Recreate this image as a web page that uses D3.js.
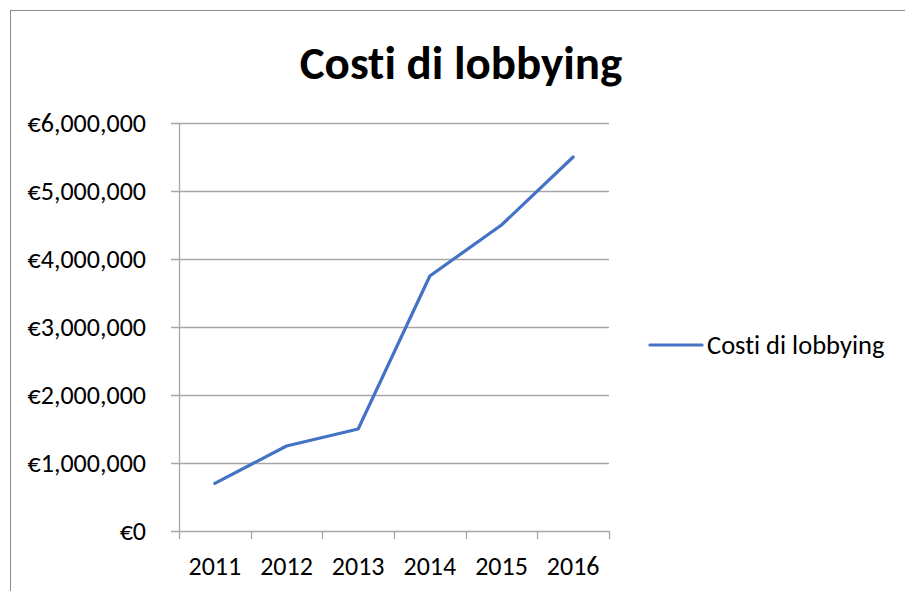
<!DOCTYPE html>
<html><head><meta charset="utf-8">
<script src="https://cdn.jsdelivr.net/npm/d3@7"></script>
<style>
body{margin:0;background:#fff;}
svg text{font-family:Carlito,Calibri,Lato,"Open Sans",sans-serif;fill:#000;font-variant-ligatures:none;font-feature-settings:"liga" 0;}
</style></head>
<body><svg id="c" width="905" height="591"></svg>
<script>
const categories = ["2011","2012","2013","2014","2015","2016"];
const values = [700000,1250000,1500000,3750000,4500000,5500000];
const yTicks = [0,1000000,2000000,3000000,4000000,5000000,6000000];
const seriesName = "Costi di lobbying";
const title = "Costi di lobbying";

const svg = d3.select("#c");
svg.append("rect").attr("x",10.5).attr("y",10.5).attr("width",905).attr("height",600)
  .attr("fill","#fff").attr("stroke","#8c8c8c").attr("stroke-width",1);

const m = {l:179, r:609, t:123, b:531};
const x = d3.scaleBand().domain(categories).range([m.l,m.r]).padding(0);
const y = d3.scaleLinear().domain([0,6000000]).range([m.b,m.t]);
const fmt = v => "€" + d3.format(",")(v);

svg.append("g").selectAll("line").data(yTicks).join("line")
  .attr("x1",m.l-8).attr("x2",m.r).attr("y1",d=>Math.round(y(d))+0.5).attr("y2",d=>Math.round(y(d))+0.5)
  .attr("stroke","#a6a6a6").attr("stroke-width",1.3);
svg.append("line").attr("x1",m.l+0.5).attr("x2",m.l+0.5).attr("y1",m.t).attr("y2",m.b)
  .attr("stroke","#a6a6a6").attr("stroke-width",1.3);
const bounds = categories.map(c=>x(c)).concat([x(categories[categories.length-1])+x.bandwidth()]);
svg.append("g").selectAll("line").data(bounds).join("line")
  .attr("x1",d=>Math.round(d)+0.5).attr("x2",d=>Math.round(d)+0.5).attr("y1",m.b).attr("y2",m.b+8)
  .attr("stroke","#a6a6a6").attr("stroke-width",1.3);
svg.append("g").selectAll("text").data(yTicks).join("text")
  .attr("x",146).attr("y",d=>y(d)).attr("dy","0.35em").attr("text-anchor","end")
  .attr("font-size",26).text(fmt);
svg.append("g").selectAll("text").data(categories).join("text")
  .attr("x",d=>x(d)+x.bandwidth()/2).attr("y",575).attr("text-anchor","middle")
  .attr("font-size",26).text(d=>d);
const line = d3.line().x((d,i)=>x(categories[i])+x.bandwidth()/2).y(d=>y(d));
svg.append("path").datum(values).attr("d",line).attr("fill","none")
  .attr("stroke","#4472C4").attr("stroke-width",3.2).attr("stroke-linejoin","round").attr("stroke-linecap","round");
svg.append("text").attr("x",461).attr("y",79).attr("text-anchor","middle")
  .attr("font-size",47).attr("font-weight","bold").text(title);
svg.append("line").attr("x1",650).attr("x2",702).attr("y1",345).attr("y2",345)
  .attr("stroke","#4472C4").attr("stroke-width",3.2).attr("stroke-linecap","round");
svg.append("text").attr("x",707).attr("y",345).attr("dy","0.35em").attr("font-size",26.5).text(seriesName);
</script></body></html>
